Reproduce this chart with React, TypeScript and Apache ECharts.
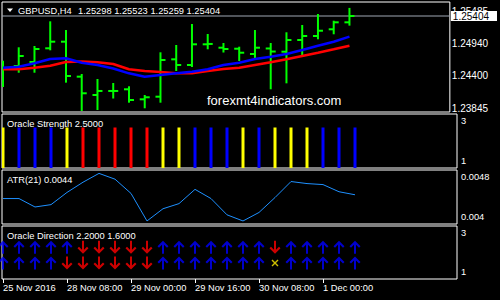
import React, { useEffect, useRef } from 'react';
import * as echarts from 'echarts';

// ---------- data ----------
const barIndex = [0, 1, 2, 3, 4, 5, 6, 7, 8, 9, 10, 11, 12, 13, 14, 15, 16, 17, 18, 19, 20, 21, 22];
const opens = [1.24464, 1.24565, 1.24632, 1.24862, 1.24973, 1.24386, 1.24078, 1.24146, 1.24174, 1.24006, 1.2405, 1.24677, 1.24582, 1.24929, 1.24872, 1.24855, 1.24766, 1.24859, 1.24805, 1.25001, 1.25068, 1.25181, 1.25298];
const highs = [1.24637, 1.24862, 1.24884, 1.25298, 1.25152, 1.24414, 1.2433, 1.24263, 1.24208, 1.24062, 1.24778, 1.24901, 1.25253, 1.25085, 1.24934, 1.24872, 1.25152, 1.24934, 1.25114, 1.25236, 1.25421, 1.25308, 1.25523];
const lows = [1.24229, 1.24469, 1.24469, 1.24845, 1.24302, 1.23827, 1.23843, 1.24036, 1.23966, 1.23872, 1.23966, 1.24498, 1.24565, 1.24862, 1.24808, 1.24666, 1.24716, 1.24191, 1.24291, 1.24741, 1.2503, 1.25114, 1.25259];
const closes = [1.24531, 1.24733, 1.2485, 1.24973, 1.24397, 1.24107, 1.24146, 1.24146, 1.23994, 1.2404, 1.24666, 1.24582, 1.24929, 1.24935, 1.2485, 1.24788, 1.24872, 1.24808, 1.25001, 1.25068, 1.25157, 1.25298, 1.25404];
const maFast = [1.24536, 1.24553, 1.2461, 1.24682, 1.24694, 1.2462, 1.24582, 1.24523, 1.24442, 1.24385, 1.24414, 1.24442, 1.24469, 1.2451, 1.24582, 1.2462, 1.24682, 1.24721, 1.24766, 1.24833, 1.24906, 1.24973, 1.25057];
const maSlow = [1.2451, 1.2451, 1.24536, 1.2457, 1.24632, 1.24641, 1.24627, 1.24599, 1.2451, 1.24481, 1.24464, 1.24442, 1.24442, 1.24481, 1.24515, 1.24536, 1.24582, 1.24627, 1.24677, 1.24733, 1.24788, 1.24845, 1.24906];
const currentPrice = 1.25404;
const priceTicks = [1.23845, 1.244, 1.2494, 1.25485];

const strengthValue = [2.5, 2.5, 2.5, 2.5, 2.5, 2.5, 2.5, 2.5, 2.5, 2.5, 2.5, 2.5, 2.5, 2.5, 2.5, 2.5, 2.5, 2.5, 2.5, 2.5, 2.5, 2.5, 2.5];
const strengthState = ['Y', 'B', 'B', 'B', 'Y', 'R', 'R', 'R', 'R', 'R', 'Y', 'Y', 'B', 'B', 'B', 'Y', 'B', 'Y', 'Y', 'Y', 'B', 'B', 'B'];
const strengthTickLabels = ['3', '1'];

const atr = [0.004377, 0.004377, 0.004252, 0.004287, 0.004468, 0.004619, 0.00475, 0.004664, 0.004453, 0.004045, 0.004226, 0.004302, 0.004513, 0.004377, 0.004136, 0.004045, 0.004171, 0.004392, 0.004629, 0.004599, 0.004584, 0.004478, 0.004433];
const atrTickLabels = ['0.0048', '0.004'];

const dirUpperLevel = [2.2, 2.2, 2.2, 2.2, 2.2, 2.2, 2.2, 2.2, 2.2, 2.2, 2.2, 2.2, 2.2, 2.2, 2.2, 2.2, 2.2, 2.2, 2.2, 2.2, 2.2, 2.2, 2.2];
const dirLowerLevel = [1.6, 1.6, 1.6, 1.6, 1.6, 1.6, 1.6, 1.6, 1.6, 1.6, 1.6, 1.6, 1.6, 1.6, 1.6, 1.6, 1.6, 1.6, 1.6, 1.6, 1.6, 1.6, 1.6];
const dirUpper = [1, 1, 1, 1, 1, -1, -1, -1, -1, -1, 1, 1, 1, 1, 1, 1, 1, -1, 1, 1, 1, 1, 1];
const dirLower = [1, 1, 1, 1, -1, -1, -1, -1, -1, -1, 1, 1, 1, 1, 1, 1, 1, 0, 1, 1, 1, 1, 1];
const dirTickLabels = ['3', '1'];

const xTickIndex = [0, 4, 8, 12, 16, 20];
const xTickLabels = ['25 Nov 2016', '28 Nov 08:00', '29 Nov 00:00', '29 Nov 16:00', '30 Nov 08:00', '1 Dec 00:00'];

// ---------- styling / layout ----------
const FONT = '"Liberation Sans", Arial, sans-serif';
const GREEN = '#00ff00';
const BLUE = '#0000ff';
const RED = '#ff0000';
const YELLOW = '#ffff00';
const stateColor: Record<string, string> = { Y: YELLOW, B: BLUE, R: RED };

const GRID_LEFT = 2;
const GRID_W = 455;
const BAR_PX = 16;
const X_MIN = -1 / BAR_PX;
const X_MAX = X_MIN + GRID_W / BAR_PX;

const panels = [
  { top: 2, height: 110, min: 1.23793, max: 1.25639 },
  { top: 114, height: 54, min: 1, max: 3 },
  { top: 170, height: 54, min: 0.004, max: 0.0048 },
  { top: 226, height: 53, min: 1, max: 3 },
];
const LABEL_INSET = 7;
const insetValues = (p: { height: number; min: number; max: number }) => {
  const d = ((p.max - p.min) * LABEL_INSET) / p.height;
  return [p.max - d, p.min + d];
};

const UP_ARROW = 'path://M5.5 0 L11 5.5 L9.5 7 L6.5 4 L6.5 13 L4.5 13 L4.5 4 L1.5 7 L0 5.5 Z';
const DOWN_ARROW = 'path://M5.5 13 L11 7.5 L9.5 6 L6.5 9 L6.5 0 L4.5 0 L4.5 9 L1.5 6 L0 7.5 Z';
const CROSS = 'path://M0 1 L1 0 L3.5 2.5 L6 0 L7 1 L4.5 3.5 L7 6 L6 7 L3.5 4.5 L1 7 L0 6 L2.5 3.5 Z';

const dirPoint = (i: number, level: number, d: number) => {
  if (d === 0) {
    return { value: [i, level], symbol: CROSS, symbolSize: [7, 7], itemStyle: { color: '#ffee00' } };
  }
  return {
    value: [i, level],
    symbol: d > 0 ? UP_ARROW : DOWN_ARROW,
    symbolSize: [11, 13],
    itemStyle: { color: d > 0 ? BLUE : RED },
  };
};

const titleStyle = (size: number) => ({ color: '#ffffff', fontSize: size, fontFamily: FONT, fontWeight: 'normal' as const, lineHeight: 11 });

const hiddenAxisParts = { splitLine: { show: false }, axisLine: { show: false }, axisTick: { show: false } };

export default function App() {
  const ref = useRef<HTMLDivElement>(null);

  useEffect(() => {
    document.body.style.margin = '0';
    document.body.style.background = '#000';
    if (!ref.current) return;
    const chart = echarts.init(ref.current, undefined, { renderer: 'svg' });
    const last = barIndex.length - 1;

    const strengthLabelVals = insetValues(panels[1]);
    const atrLabelVals = insetValues(panels[2]);
    const dirLabelVals = insetValues(panels[3]);

    const option: any = {
      animation: false,
      backgroundColor: '#000',
      textStyle: { fontFamily: FONT },
      title: [
        { text: 'GBPUSD,H4', left: 18, top: 5, padding: 0, textStyle: titleStyle(9.3) },
        {
          text: `${opens[last].toFixed(5)} ${highs[last].toFixed(5)} ${lows[last].toFixed(5)} ${closes[last].toFixed(5)}`,
          left: 78, top: 5, padding: 0, textStyle: titleStyle(9.3),
        },
        { text: `Oracle Strength ${strengthValue[last].toFixed(4)}`, left: 7, top: 118, padding: 0, textStyle: titleStyle(9.3) },
        { text: `ATR(21) ${atr[last].toFixed(4)}`, left: 7, top: 174.5, padding: 0, textStyle: titleStyle(9.3) },
        {
          text: `Oracle Direction ${dirUpperLevel[last].toFixed(4)} ${dirLowerLevel[last].toFixed(4)}`,
          left: 7, top: 230, padding: 0, textStyle: titleStyle(9.3),
        },
        {
          text: 'forexmt4indicators.com', left: 207, top: 93, padding: 0,
          textStyle: { color: '#ffffff', fontSize: 13, fontFamily: FONT, fontWeight: 'normal', lineHeight: 15 },
        },
      ],
      graphic: [
        { type: 'polygon', shape: { points: [[7, 8.5], [13, 8.5], [10, 12]] }, style: { fill: '#ffffff' }, z: 10 },
      ],
      grid: panels.map((p) => ({
        left: GRID_LEFT, top: p.top, width: GRID_W, height: p.height,
        show: true, borderColor: '#ffffff', borderWidth: 1, backgroundColor: 'transparent',
      })),
      xAxis: panels.map((p, gi) => ({
        type: 'value', gridIndex: gi, min: X_MIN, max: X_MAX,
        splitLine: { show: false },
        axisLine: { show: false },
        axisTick: gi === 3
          ? { show: true, customValues: xTickIndex, length: 4, lineStyle: { color: '#ffffff' } }
          : { show: false },
        axisLabel: gi === 3
          ? {
              show: true, customValues: xTickIndex, color: '#ffffff', fontSize: 9.3, fontFamily: FONT,
              align: 'left', margin: 4,
              formatter: (v: number) => xTickLabels[xTickIndex.indexOf(Math.round(v))] ?? '',
            }
          : { show: false },
      })),
      yAxis: [
        {
          type: 'value', gridIndex: 0, position: 'right', min: panels[0].min, max: panels[0].max,
          ...hiddenAxisParts,
          axisLabel: {
            customValues: priceTicks, color: '#ffffff', fontSize: 10, fontFamily: FONT, margin: 2,
            formatter: (v: number) => v.toFixed(5),
          },
        },
        {
          type: 'value', gridIndex: 1, position: 'right', min: panels[1].min, max: panels[1].max,
          ...hiddenAxisParts,
          axisLabel: {
            customValues: strengthLabelVals, color: '#ffffff', fontSize: 9.3, fontFamily: FONT, margin: 4,
            formatter: (v: number) => (v > 2 ? strengthTickLabels[0] : strengthTickLabels[1]),
          },
        },
        {
          type: 'value', gridIndex: 2, position: 'right', min: panels[2].min, max: panels[2].max,
          ...hiddenAxisParts,
          axisLabel: {
            customValues: atrLabelVals, color: '#ffffff', fontSize: 9.3, fontFamily: FONT, margin: 4,
            formatter: (v: number) => (v > 0.0044 ? atrTickLabels[0] : atrTickLabels[1]),
          },
        },
        {
          type: 'value', gridIndex: 3, position: 'right', min: panels[3].min, max: panels[3].max,
          ...hiddenAxisParts,
          axisLabel: {
            customValues: dirLabelVals, color: '#ffffff', fontSize: 9.3, fontFamily: FONT, margin: 4,
            formatter: (v: number) => (v > 2 ? dirTickLabels[0] : dirTickLabels[1]),
          },
        },
        {
          // current price tag, same scale as the price axis
          type: 'value', gridIndex: 0, position: 'right', min: panels[0].min, max: panels[0].max,
          ...hiddenAxisParts,
          axisLabel: {
            customValues: [currentPrice], color: '#000000', backgroundColor: '#ffffff',
            fontSize: 10, fontFamily: FONT, margin: 1, lineHeight: 9, padding: [1, 8, 0, 2],
            formatter: (v: number) => v.toFixed(5),
          },
        },
      ],
      series: [
        {
          type: 'line', name: 'Price line', xAxisIndex: 0, yAxisIndex: 0, z: 1,
          data: [[X_MIN, currentPrice], [X_MAX, currentPrice]], showSymbol: false, silent: true,
          lineStyle: { color: '#a0a8b4', width: 1 },
        },
        {
          type: 'custom', name: 'GBPUSD', xAxisIndex: 0, yAxisIndex: 0, clip: true, z: 2,
          data: barIndex.map((i) => [i, opens[i], highs[i], lows[i], closes[i]]),
          encode: { x: 0, y: [1, 2, 3, 4] },
          renderItem: (_params: any, api: any) => {
            const x = api.value(0);
            const pO = api.coord([x, api.value(1)]);
            const pH = api.coord([x, api.value(2)]);
            const pL = api.coord([x, api.value(3)]);
            const pC = api.coord([x, api.value(4)]);
            const style = { stroke: GREEN, lineWidth: 2 };
            return {
              type: 'group',
              children: [
                { type: 'line', shape: { x1: pH[0], y1: pH[1] - 1, x2: pL[0], y2: pL[1] + 1 }, style },
                { type: 'line', shape: { x1: pO[0] - 5, y1: pO[1], x2: pO[0], y2: pO[1] }, style },
                { type: 'line', shape: { x1: pC[0], y1: pC[1], x2: pC[0] + 5, y2: pC[1] }, style },
              ],
            };
          },
        },
        {
          type: 'line', name: 'MA slow', xAxisIndex: 0, yAxisIndex: 0, z: 3,
          data: barIndex.map((i) => [i, maSlow[i]]), showSymbol: false,
          lineStyle: { color: RED, width: 2.5 },
        },
        {
          type: 'line', name: 'MA fast', xAxisIndex: 0, yAxisIndex: 0, z: 4,
          data: barIndex.map((i) => [i, maFast[i]]), showSymbol: false,
          lineStyle: { color: BLUE, width: 2.5 },
        },
        {
          type: 'custom', name: 'Oracle Strength', xAxisIndex: 1, yAxisIndex: 1, clip: true,
          data: barIndex.map((i) => [i, strengthValue[i]]),
          encode: { x: 0, y: 1 },
          renderItem: (params: any, api: any) => {
            const x = api.value(0);
            const top = api.coord([x, api.value(1)]);
            const base = api.coord([x, panels[1].min]);
            return {
              type: 'rect',
              shape: { x: top[0] - 1.5, y: top[1], width: 3, height: base[1] - top[1] },
              style: { fill: stateColor[strengthState[params.dataIndex]] },
            };
          },
        },
        {
          type: 'line', name: 'ATR(21)', xAxisIndex: 2, yAxisIndex: 2,
          data: barIndex.map((i) => [i, atr[i]]), showSymbol: false,
          lineStyle: { color: '#1e90ff', width: 1 },
        },
        {
          type: 'scatter', name: 'Direction upper', xAxisIndex: 3, yAxisIndex: 3, clip: true,
          data: barIndex.map((i) => dirPoint(i, dirUpperLevel[i], dirUpper[i])),
        },
        {
          type: 'scatter', name: 'Direction lower', xAxisIndex: 3, yAxisIndex: 3, clip: true,
          data: barIndex.map((i) => dirPoint(i, dirLowerLevel[i], dirLower[i])),
        },
      ],
    };

    chart.setOption(option);
    return () => chart.dispose();
  }, []);

  return <div ref={ref} style={{ width: 500, height: 300, background: '#000' }} />;
}
